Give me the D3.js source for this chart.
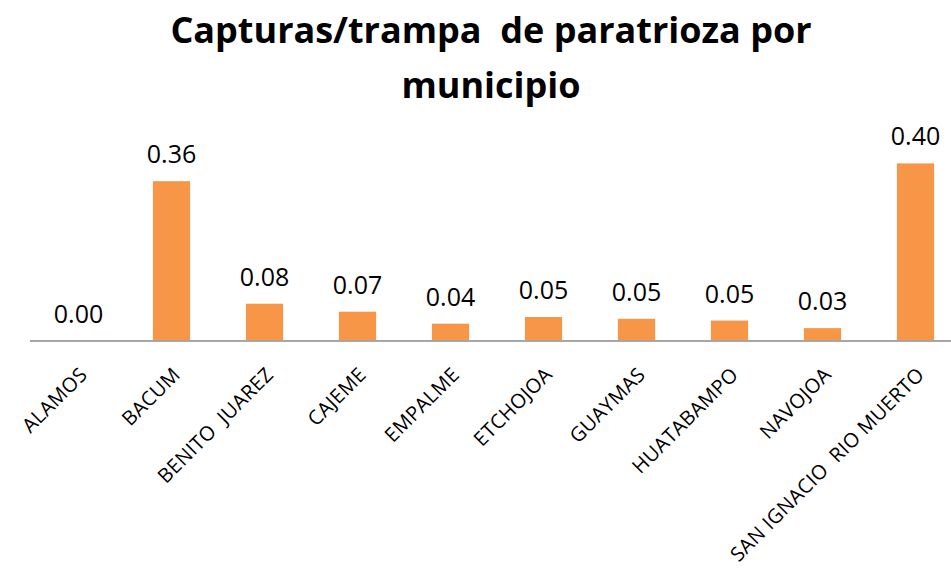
<!DOCTYPE html>
<html>
<head>
<meta charset="utf-8">
<style>
body { margin: 0; background: #fff; }
.title { font-family: "Open Sans", sans-serif; font-weight: bold; fill: #000; }
.bar { fill: #F79646; }
.val { font-family: "Open Sans", sans-serif; font-size: 25px; fill: #000; }
.axis text { font-family: "Open Sans", sans-serif; font-size: 20px; letter-spacing: 0.3px; fill: #000; white-space: pre; }
.axis .domain { stroke: #a6a6a6; stroke-width: 2px; }
</style>
</head>
<body>
<svg width="951" height="571"></svg>
<script src="https://d3js.org/d3.v7.min.js"></script>
<script>

var municipios = ["ALAMOS", "BACUM", "BENITO  JUAREZ", "CAJEME", "EMPALME", "ETCHOJOA",
                  "GUAYMAS", "HUATABAMPO", "NAVOJOA", "SAN IGNACIO  RIO MUERTO"];
var capturas = [0.00, 0.36, 0.084, 0.066, 0.039, 0.054, 0.050, 0.046, 0.029, 0.40];
var etiquetas = ["0.00", "0.36", "0.08", "0.07", "0.04", "0.05", "0.05", "0.05", "0.03", "0.40"];
var titulo = ["Capturas/trampa  de paratrioza por", "municipio"];

var svg = d3.select("svg"),
    base = 341;

var x = d3.scaleBand()
    .domain(municipios)
    .range([32, 962])
    .paddingInner(0.6)
    .paddingOuter(0.3);

var y = d3.scaleLinear()
    .domain([0, 0.4])
    .range([base, base - 0.4 * 444]);

// titulo
svg.selectAll(".title")
    .data(titulo)
  .enter().append("text")
    .attr("class", "title")
    .attr("x", 491)
    .attr("y", function(d, i) { return i === 0 ? 43 : 98; })
    .attr("text-anchor", "middle")
    .style("font-size", "36px")
    .style("white-space", "pre")
    .text(function(d) { return d; });

// barras
svg.selectAll(".bar")
    .data(capturas)
  .enter().append("rect")
    .attr("class", "bar")
    .attr("x", function(d, i) { return x(municipios[i]); })
    .attr("width", x.bandwidth())
    .attr("y", function(d) { return y(d); })
    .attr("height", function(d) { return base - y(d); });

// eje x
var xAxis = d3.axisBottom(x).tickSize(0).tickSizeOuter(0);

var gx = svg.append("g")
    .attr("class", "axis")
    .attr("transform", "translate(0," + base + ")")
    .call(xAxis);

gx.select(".domain").attr("d", "M30,0H951");

gx.selectAll(".tick text")
    .attr("x", 0)
    .attr("y", 0)
    .attr("dy", "0.35em")
    .attr("text-anchor", "end")
    .attr("transform", "translate(5,30) rotate(-45)");

// etiquetas de valor
svg.selectAll(".val")
    .data(capturas)
  .enter().append("text")
    .attr("class", "val")
    .attr("x", function(d, i) { return x(municipios[i]) + x.bandwidth() / 2; })
    .attr("y", function(d) { return y(d) - 18; })
    .attr("text-anchor", "middle")
    .text(function(d, i) { return etiquetas[i]; });

</script>
</body>
</html>
